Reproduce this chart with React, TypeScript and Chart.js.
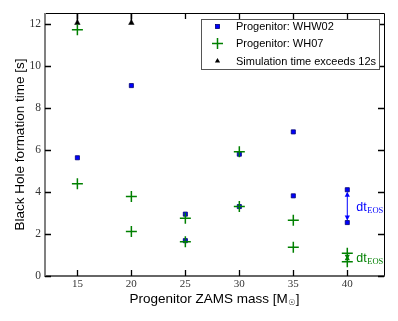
import React, { useEffect, useRef } from 'react';
import { Chart, registerables } from 'chart.js';

Chart.register(...registerables);

// ---- data ----
const masses = [15, 20, 25, 30, 35, 40];
const whw02Run1: (number | null)[] = [5.62, 9.05, 2.94, 5.79, 6.85, 4.10];
const whw02Run2: (number | null)[] = [null, null, 1.68, 3.30, 3.81, 2.54];
const wh07Run1: (number | null)[] = [11.70, 3.78, 2.75, 5.90, 2.65, 1.08];
const wh07Run2: (number | null)[] = [4.38, 2.11, 1.63, 3.30, 1.37, 0.68];
const exceedMasses = [15, 20];
const exceedValues = [12.03, 12.03];
const xTicks = [15, 20, 25, 30, 35, 40];
const yTicks = [0, 2, 4, 6, 8, 10, 12];
const legendLabels = ['Progenitor: WHW02', 'Progenitor: WH07', 'Simulation time exceeds 12s'];
const xTitle = 'Progenitor ZAMS mass [M';
const xTitleSub = '\u2609';
const yTitle = 'Black Hole formation time [s]';
const dtLabel = 'dt';
const dtSub = 'EOS';

const BLUE = '#0000ff';
const GREEN = '#008000';

function toPoints(xs: number[], ...series: (number | null)[][]) {
  const pts: { x: number; y: number }[] = [];
  series.forEach((s) =>
    s.forEach((v, i) => {
      if (v !== null && v !== undefined) pts.push({ x: xs[i], y: v });
    })
  );
  return pts;
}

function drawArrow(ctx: CanvasRenderingContext2D, px: number, y1: number, y2: number, color: string) {
  const top = Math.min(y1, y2) + 2;
  const bot = Math.max(y1, y2) - 2;
  const hl = 5;
  const hw = 2.6;
  ctx.strokeStyle = color;
  ctx.fillStyle = color;
  ctx.lineWidth = 1;
  ctx.beginPath();
  ctx.moveTo(px, top + 1);
  ctx.lineTo(px, bot - 1);
  ctx.stroke();
  ctx.beginPath();
  ctx.moveTo(px, top);
  ctx.lineTo(px - hw, top + hl);
  ctx.lineTo(px + hw, top + hl);
  ctx.closePath();
  ctx.fill();
  ctx.beginPath();
  ctx.moveTo(px, bot);
  ctx.lineTo(px - hw, bot - hl);
  ctx.lineTo(px + hw, bot - hl);
  ctx.closePath();
  ctx.fill();
}

const decorPlugin = {
  id: 'decor',
  beforeDatasetsDraw(chart: any) {
    const { ctx, chartArea: a, scales } = chart;
    const x = scales.x;
    const y = scales.y;
    ctx.save();
    ctx.strokeStyle = '#000';
    ctx.lineWidth = 1.5;
    exceedMasses.forEach((m, i) => {
      const px = x.getPixelForValue(m);
      const py = y.getPixelForValue(exceedValues[i]);
      ctx.beginPath();
      ctx.moveTo(px, py);
      ctx.lineTo(px, a.top);
      ctx.stroke();
    });
    const last = masses.length - 1;
    const ax = x.getPixelForValue(masses[last]);
    drawArrow(ctx, ax, y.getPixelForValue(whw02Run1[last] as number), y.getPixelForValue(whw02Run2[last] as number), BLUE);
    drawArrow(ctx, ax, y.getPixelForValue(wh07Run1[last] as number), y.getPixelForValue(wh07Run2[last] as number), GREEN);
    ctx.restore();
  },
  afterDraw(chart: any) {
    const { ctx, chartArea: a, scales } = chart;
    const x = scales.x;
    const y = scales.y;
    ctx.save();
    // frame
    ctx.lineWidth = 1;
    ctx.strokeStyle = '#000';
    ctx.beginPath();
    ctx.moveTo(a.left, a.top + 0.5);
    ctx.lineTo(a.right + 0.5, a.top + 0.5);
    ctx.lineTo(a.right + 0.5, a.bottom);
    ctx.stroke();
    ctx.lineWidth = 1.6;
    ctx.strokeStyle = '#333';
    ctx.beginPath();
    ctx.moveTo(a.left, a.bottom);
    ctx.lineTo(a.right + 1, a.bottom);
    ctx.stroke();
    ctx.lineWidth = 2;
    ctx.strokeStyle = '#808080';
    ctx.beginPath();
    ctx.moveTo(a.left, a.top);
    ctx.lineTo(a.left, a.bottom + 1);
    ctx.stroke();
    // inward ticks
    ctx.lineWidth = 1.3;
    ctx.strokeStyle = '#000';
    const tl = 6;
    xTicks.forEach((t) => {
      const px = Math.round(x.getPixelForValue(t)) + 0.5;
      ctx.beginPath();
      ctx.moveTo(px, a.bottom);
      ctx.lineTo(px, a.bottom - tl);
      ctx.moveTo(px, a.top);
      ctx.lineTo(px, a.top + tl);
      ctx.stroke();
    });
    yTicks.forEach((t) => {
      const py = Math.round(y.getPixelForValue(t)) + 0.5;
      ctx.beginPath();
      ctx.moveTo(a.left, py);
      ctx.lineTo(a.left + tl, py);
      ctx.moveTo(a.right, py);
      ctx.lineTo(a.right - tl, py);
      ctx.stroke();
    });

    // legend
    const lx = 201.5, ly = 19.5, lw = 178, lh = 50;
    ctx.fillStyle = '#fff';
    ctx.fillRect(lx, ly, lw, lh);
    ctx.strokeStyle = '#555';
    ctx.lineWidth = 1;
    ctx.strokeRect(lx, ly, lw, lh);
    const mx = 217.5;
    const rows = [26.5, 43.5, 61];
    // square
    ctx.fillStyle = BLUE;
    ctx.strokeStyle = '#000070';
    ctx.lineWidth = 0.8;
    ctx.fillRect(mx - 2, rows[0] - 2, 4, 4);
    ctx.strokeRect(mx - 2, rows[0] - 2, 4, 4);
    // plus
    ctx.strokeStyle = GREEN;
    ctx.lineWidth = 1.5;
    ctx.beginPath();
    ctx.moveTo(mx - 5.5, rows[1]);
    ctx.lineTo(mx + 5.5, rows[1]);
    ctx.moveTo(mx, rows[1] - 5.5);
    ctx.lineTo(mx, rows[1] + 5.5);
    ctx.stroke();
    // triangle
    ctx.fillStyle = '#000';
    ctx.beginPath();
    ctx.moveTo(mx, rows[2] - 3);
    ctx.lineTo(mx - 2.6, rows[2] + 1.5);
    ctx.lineTo(mx + 2.6, rows[2] + 1.5);
    ctx.closePath();
    ctx.fill();
    ctx.fillStyle = '#000';
    ctx.font = '11px "Liberation Sans", Arial, sans-serif';
    ctx.textAlign = 'left';
    ctx.textBaseline = 'middle';
    legendLabels.forEach((l, i) => ctx.fillText(l, 236, rows[i] + 0.5));

    // axis titles
    ctx.fillStyle = '#000';
    ctx.font = '13.5px "Liberation Sans", Arial, sans-serif';
    ctx.textBaseline = 'alphabetic';
    ctx.save();
    ctx.translate(24, (a.top + a.bottom) / 2);
    ctx.rotate(-Math.PI / 2);
    ctx.textAlign = 'center';
    ctx.fillText(yTitle, 0, 0);
    ctx.restore();

    const mainW = ctx.measureText(xTitle).width;
    const subFont = '8px "DejaVu Sans", sans-serif';
    ctx.font = subFont;
    const subW = ctx.measureText(xTitleSub).width;
    ctx.font = '13.5px "Liberation Sans", Arial, sans-serif';
    const brW = ctx.measureText(']').width;
    const total = mainW + subW + brW + 1;
    let tx = (a.left + a.right) / 2 - total / 2;
    const by = 302.5;
    ctx.textAlign = 'left';
    ctx.fillText(xTitle, tx, by);
    tx += mainW;
    ctx.font = subFont;
    ctx.fillText(xTitleSub, tx + 0.5, by + 2.5);
    tx += subW + 1;
    ctx.font = '13.5px "Liberation Sans", Arial, sans-serif';
    ctx.fillText(']', tx, by);

    // dt_EOS labels
    const last = masses.length - 1;
    const ax = x.getPixelForValue(masses[last]);
    const drawDt = (v1: number, v2: number, color: string) => {
      const mid = (y.getPixelForValue(v1) + y.getPixelForValue(v2)) / 2;
      const base = mid + 5;
      ctx.fillStyle = color;
      ctx.font = '12.5px "Liberation Sans", Arial, sans-serif';
      ctx.textAlign = 'left';
      ctx.fillText(dtLabel, ax + 9, base);
      const w = ctx.measureText(dtLabel).width;
      ctx.font = '8.5px "Liberation Serif", serif';
      ctx.fillText(dtSub, ax + 9 + w + 0.5, base + 1.5);
    };
    drawDt(whw02Run1[last] as number, whw02Run2[last] as number, BLUE);
    drawDt(wh07Run1[last] as number, wh07Run2[last] as number, GREEN);
    ctx.restore();
  },
};

export default function App() {
  const ref = useRef<HTMLCanvasElement | null>(null);
  useEffect(() => {
    if (!ref.current) return;
    const chart = new Chart(ref.current, {
      type: 'scatter',
      data: {
        datasets: [
          {
            label: legendLabels[1],
            data: toPoints(masses, wh07Run1, wh07Run2),
            pointStyle: 'cross',
            pointRadius: 5.5,
            borderColor: GREEN,
            backgroundColor: GREEN,
            pointBorderWidth: 1.5,
          },
          {
            label: legendLabels[0],
            data: toPoints(masses, whw02Run1, whw02Run2),
            pointStyle: 'rect',
            pointRadius: 2.9,
            backgroundColor: BLUE,
            borderColor: '#000070',
            pointBorderWidth: 0.8,
          },
          {
            label: legendLabels[2],
            data: exceedMasses.map((m, i) => ({ x: m, y: exceedValues[i] })),
            pointStyle: 'triangle',
            pointRadius: 3.2,
            backgroundColor: '#000',
            borderColor: '#000',
            pointBorderWidth: 0.5,
          },
        ],
      },
      options: {
        responsive: false,
        animation: false,
        layout: { padding: { left: 0, right: 14, top: 13, bottom: 0 } },
        plugins: { legend: { display: false }, tooltip: { enabled: false } },
        scales: {
          x: {
            type: 'linear',
            min: 12,
            max: 43.4,
            grid: { display: false, drawTicks: false },
            border: { display: false },
            afterBuildTicks: (s: any) => {
              s.ticks = xTicks.map((v) => ({ value: v }));
            },
            afterFit: (s: any) => {
              s.height = 45;
            },
            ticks: {
              padding: 2,
              color: '#333',
              font: { family: '"Liberation Serif", serif', size: 11 },
              maxRotation: 0,
              autoSkip: false,
            },
          },
          y: {
            type: 'linear',
            min: 0,
            max: 12.5,
            grid: { display: false, drawTicks: false },
            border: { display: false },
            afterBuildTicks: (s: any) => {
              s.ticks = yTicks.map((v) => ({ value: v }));
            },
            afterFit: (s: any) => {
              s.width = 45;
            },
            ticks: {
              padding: 4,
              color: '#333',
              font: { family: '"Liberation Serif", serif', size: 11.5 },
              autoSkip: false,
            },
          },
        },
      },
      plugins: [decorPlugin],
    });
    return () => chart.destroy();
  }, []);
  return (
    <div style={{ position: 'absolute', left: 0, top: 0, width: 398, height: 321, background: '#fff' }}>
      <canvas ref={ref} width={398} height={321} />
    </div>
  );
}
